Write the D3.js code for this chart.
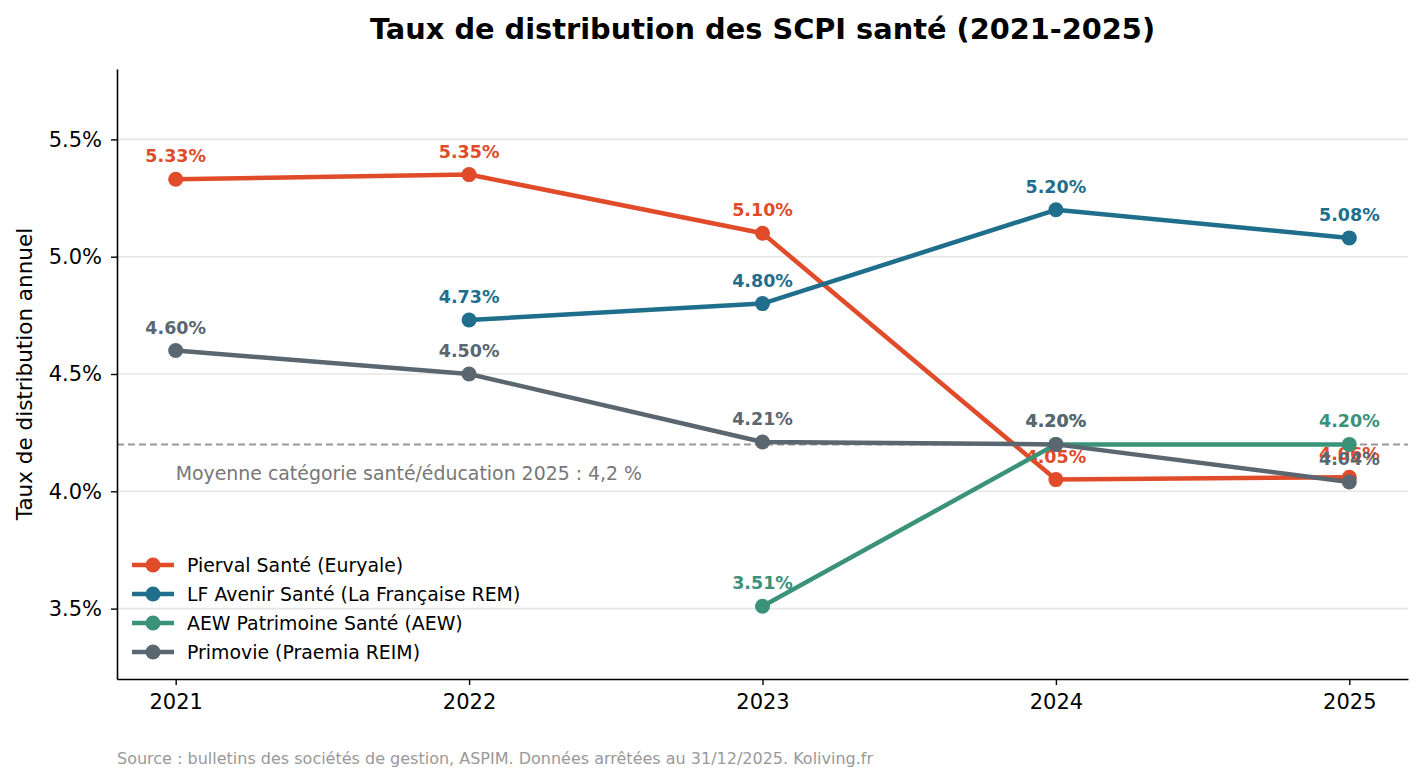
<!DOCTYPE html>
<html>
<head>
<meta charset="utf-8">
<script src="https://cdn.jsdelivr.net/npm/d3@7"></script>
<style>
  body { margin: 0; background: #fff; font-family: "DejaVu Sans", sans-serif; }
</style>
</head>
<body>
<div id="chart"></div>
<script>
// Data
const years = [2021, 2022, 2023, 2024, 2025];
const pierval = [5.33, 5.35, 5.10, 4.05, 4.06];
const lfAvenir = [null, 4.73, 4.80, 5.20, 5.08];
const aewPatrimoine = [null, null, 3.51, 4.20, 4.20];
const primovie = [4.60, 4.50, 4.21, 4.20, 4.04];
const seriesNames = ["Pierval Santé (Euryale)", "LF Avenir Santé (La Française REM)", "AEW Patrimoine Santé (AEW)", "Primovie (Praemia REIM)"];
const seriesColors = ["#E04B2A", "#1F6E8C", "#3A9278", "#5A6670"];
const yTicks = [3.5, 4.0, 4.5, 5.0, 5.5];
const categoryAverage = 4.2;

const allSeries = [pierval, lfAvenir, aewPatrimoine, primovie].map(function(vals, i) {
  return {
    name: seriesNames[i],
    color: seriesColors[i],
    points: years.map(function(y, j) { return {year: y, value: vals[j]}; }).filter(d => d.value !== null)
  };
});

const W = 1423, H = 783;
const margin = {top: 69, right: 15, bottom: 104, left: 117};
const w = W - margin.left - margin.right;
const h = H - margin.top - margin.bottom;

const svg = d3.select("#chart").append("svg")
  .attr("width", W).attr("height", H);

// Title
svg.append("text")
  .attr("x", margin.left + w / 2)
  .attr("y", 39)
  .attr("text-anchor", "middle")
  .style("font-size", "28.8px")
  .style("font-weight", "bold")
  .text("Taux de distribution des SCPI santé (2021-2025)");

const g = svg.append("g")
  .attr("transform", "translate(" + margin.left + "," + margin.top + ")");

const x = d3.scaleLinear().domain([2020.8, 2025.2]).range([0, w]);
const y = d3.scaleLinear().domain([3.2, 5.8]).range([h, 0]);

// grid
g.append("g").selectAll("line")
  .data(yTicks)
  .enter().append("line")
  .attr("x1", 0).attr("x2", w)
  .attr("y1", d => y(d)).attr("y2", d => y(d))
  .attr("stroke", "#e6e6e6")
  .attr("stroke-width", 1.6);

// average line
g.append("line")
  .attr("x1", 0).attr("x2", w)
  .attr("y1", y(categoryAverage)).attr("y2", y(categoryAverage))
  .attr("stroke", "#999")
  .attr("stroke-width", 2)
  .attr("stroke-dasharray", "7,4");

g.append("text")
  .attr("x", x(2021))
  .attr("y", y(categoryAverage) + 36)
  .attr("fill", "#777")
  .style("font-size", "18.9px")
  .text("Moyenne catégorie santé/éducation 2025 : 4,2 %");

// axes
const xAxis = d3.axisBottom(x).tickValues(years).tickFormat(d3.format("d")).tickSize(6).tickSizeOuter(0).tickPadding(9);
const yAxis = d3.axisLeft(y).tickValues(yTicks).tickFormat(d => d.toFixed(1) + "%").tickSize(6).tickSizeOuter(0).tickPadding(9);

const gx = g.append("g").attr("transform", "translate(0," + h + ")").call(xAxis);
const gy = g.append("g").call(yAxis);
[gx, gy].forEach(function(a) {
  a.select(".domain").attr("stroke", "#000").attr("stroke-width", 1.6);
  a.selectAll(".tick line").attr("stroke", "#000").attr("stroke-width", 1.4);
  a.selectAll(".tick text").style("font-size", "21px").style("font-family", "DejaVu Sans").attr("fill", "#000");
});

svg.append("text")
  .attr("transform", "rotate(-90)")
  .attr("x", -(margin.top + h / 2))
  .attr("y", 32)
  .attr("text-anchor", "middle")
  .style("font-size", "21.5px")
  .text("Taux de distribution annuel");

const line = d3.line().x(d => x(d.year)).y(d => y(d.value));

// series
allSeries.forEach(function(s) {
  const sg = g.append("g");
  sg.append("path")
    .datum(s.points)
    .attr("d", line)
    .attr("fill", "none")
    .attr("stroke", s.color)
    .attr("stroke-width", 4.5)
    .attr("stroke-linejoin", "round")
    .attr("stroke-linecap", "round");
  sg.selectAll("circle")
    .data(s.points)
    .enter().append("circle")
    .attr("cx", d => x(d.year))
    .attr("cy", d => y(d.value))
    .attr("r", 7.5)
    .attr("fill", s.color);
  sg.selectAll("text")
    .data(s.points)
    .enter().append("text")
    .attr("x", d => x(d.year))
    .attr("y", d => y(d.value) - 17)
    .attr("text-anchor", "middle")
    .attr("fill", s.color)
    .style("font-size", "17.5px")
    .style("font-weight", "bold")
    .text(d => d.value.toFixed(2) + "%");
});

// legend
const legend = g.append("g").attr("transform", "translate(0," + (565 - margin.top) + ")");
const rows = legend.selectAll("g")
  .data(allSeries)
  .enter().append("g")
  .attr("transform", (d, i) => "translate(0," + (i * 29) + ")");
rows.append("line")
  .attr("x1", 15).attr("x2", 57)
  .attr("y1", 0).attr("y2", 0)
  .attr("stroke", d => d.color)
  .attr("stroke-width", 4.5);
rows.append("circle")
  .attr("cx", 36).attr("cy", 0).attr("r", 7.5)
  .attr("fill", d => d.color);
rows.append("text")
  .attr("x", 70).attr("y", 7)
  .style("font-size", "18.9px")
  .text(d => d.name);

// source
svg.append("text")
  .attr("x", margin.left)
  .attr("y", 764)
  .attr("fill", "#999")
  .style("font-size", "16px")
  .text("Source : bulletins des sociétés de gestion, ASPIM. Données arrêtées au 31/12/2025. Koliving.fr");
</script>
</body>
</html>
